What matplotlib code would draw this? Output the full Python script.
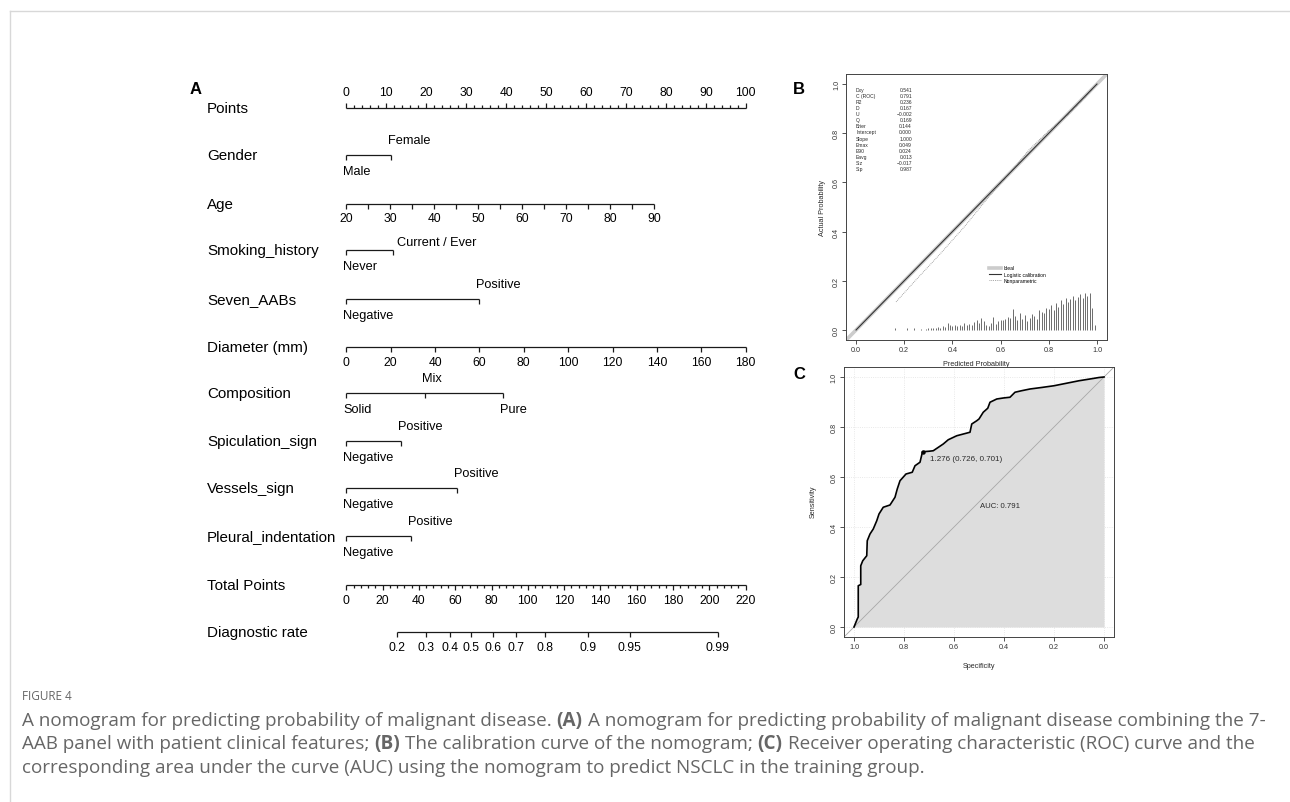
import numpy as np
import matplotlib
matplotlib.use('Agg')
import matplotlib.pyplot as plt
from matplotlib.lines import Line2D
from matplotlib.ticker import FormatStrFormatter

plt.rcParams['font.family'] = ['Liberation Sans', 'DejaVu Sans']

W, H = 1290, 803

# ---------------- panel A: nomogram (points scale 0-100) ----------------
row_names = ['Points', 'Gender', 'Age', 'Smoking_history', 'Seven_AABs', 'Diameter (mm)',
             'Composition', 'Spiculation_sign', 'Vessels_sign', 'Pleural_indentation',
             'Total Points', 'Diagnostic rate']
row_y = [109, 156, 205, 251, 300, 348, 394, 442, 489, 537, 586, 633]   # pixel rows

points_ticks = [0, 10, 20, 30, 40, 50, 60, 70, 80, 90, 100]

gender_levels = ['Male', 'Female']
gender_points = [0, 11.3]
smoking_levels = ['Never', 'Current / Ever']
smoking_points = [0, 11.7]
aab_levels = ['Negative', 'Positive']
aab_points = [0, 33.2]
composition_levels = ['Solid', 'Mix', 'Pure']
composition_points = [0, 19.6, 39.2]
spiculation_levels = ['Negative', 'Positive']
spiculation_points = [0, 13.8]
vessels_levels = ['Negative', 'Positive']
vessels_points = [0, 27.8]
pleural_levels = ['Negative', 'Positive']
pleural_points = [0, 16.2]

age_ticks = [20, 25, 30, 35, 40, 45, 50, 55, 60, 65, 70, 75, 80, 85, 90]
age_labels = [20, 30, 40, 50, 60, 70, 80, 90]
age_range = [20, 90]
age_point_range = [0, 77.1]

diameter_ticks = [0, 20, 40, 60, 80, 100, 120, 140, 160, 180]
diameter_range = [0, 180]
diameter_point_range = [0, 100]

total_labels = [0, 20, 40, 60, 80, 100, 120, 140, 160, 180, 200, 220]
total_range = [0, 220]

diag_probs = [0.2, 0.3, 0.4, 0.5, 0.6, 0.7, 0.8, 0.9, 0.95, 0.99]
diag_total = [28.2, 44.0, 56.9, 68.8, 80.7, 93.6, 109.4, 133.2, 156.0, 204.5]

# ---------------- panel B: calibration ----------------
stat_names = ['Dxy', 'C (ROC)', 'R2', 'D', 'U', 'Q', 'Brier', 'Intercept', 'Slope',
              'Emax', 'E90', 'Eavg', 'S:z', 'S:p']
stat_values = ['0.541', '0.791', '0.236', '0.167', '\u22120.002', '0.169', '0.144',
               '0.000', '1.000', '0.049', '0.024', '0.013', '\u22120.017', '0.987']

logistic_x = [0.0, 1.0]
logistic_y = [0.0, 1.0]
nonpar_x = [0.166, 0.25, 0.35, 0.45, 0.55, 0.64, 0.72, 0.80, 0.88, 0.95, 0.99]
nonpar_y = [0.114, 0.205, 0.31, 0.42, 0.54, 0.64, 0.735, 0.81, 0.875, 0.945, 0.99]

spike_x = [0.16, 0.21, 0.24, 0.27,
           0.29, 0.30, 0.31, 0.32, 0.33, 0.34, 0.35, 0.36, 0.37, 0.38, 0.39,
           0.40, 0.41, 0.42, 0.43, 0.44, 0.45, 0.46, 0.47, 0.48, 0.49,
           0.50, 0.51, 0.52, 0.53, 0.54, 0.55, 0.56, 0.57, 0.58, 0.59,
           0.60, 0.61, 0.62, 0.63, 0.64, 0.65, 0.66, 0.67, 0.68, 0.69,
           0.70, 0.71, 0.72, 0.73, 0.74, 0.75, 0.76, 0.77, 0.78, 0.79,
           0.80, 0.81, 0.82, 0.83, 0.84, 0.85, 0.86, 0.87, 0.88, 0.89,
           0.90, 0.91, 0.92, 0.93, 0.94, 0.95, 0.96, 0.97, 0.98, 0.99]
spike_h = [0.010, 0.006, 0.008, 0.005,
           0.004, 0.006, 0.007, 0.009, 0.008, 0.012, 0.010, 0.015, 0.012, 0.028, 0.022,
           0.018, 0.022, 0.015, 0.020, 0.018, 0.030, 0.022, 0.025, 0.020, 0.033,
           0.040, 0.028, 0.047, 0.035, 0.020, 0.018, 0.030, 0.054, 0.025, 0.038,
           0.040, 0.042, 0.045, 0.052, 0.050, 0.085, 0.055, 0.040, 0.070, 0.045,
           0.060, 0.035, 0.050, 0.065, 0.055, 0.045, 0.080, 0.075, 0.070, 0.090,
           0.085, 0.100, 0.080, 0.110, 0.095, 0.120, 0.105, 0.130, 0.115, 0.125,
           0.140, 0.120, 0.135, 0.145, 0.130, 0.150, 0.140, 0.150, 0.090, 0.020]

# ---------------- panel C: ROC ----------------
roc_spec = [1.0, 0.995, 0.987, 0.983, 0.983, 0.973, 0.973, 0.965, 0.949, 0.947, 0.936,
            0.923, 0.909, 0.900, 0.883, 0.856, 0.836, 0.827, 0.816, 0.792, 0.767, 0.756,
            0.736, 0.726, 0.700, 0.683, 0.643, 0.623, 0.589, 0.536, 0.529, 0.509, 0.500,
            0.483, 0.465, 0.456, 0.429, 0.403, 0.376, 0.356, 0.330, 0.296, 0.250, 0.200,
            0.150, 0.100, 0.050, 0.020, 0.0]
roc_sens = [0.0, 0.012, 0.032, 0.040, 0.165, 0.170, 0.245, 0.265, 0.285, 0.345, 0.372,
            0.392, 0.425, 0.452, 0.479, 0.488, 0.519, 0.552, 0.585, 0.612, 0.619, 0.645,
            0.659, 0.701, 0.703, 0.705, 0.732, 0.749, 0.765, 0.779, 0.812, 0.825, 0.832,
            0.859, 0.875, 0.899, 0.912, 0.916, 0.919, 0.939, 0.945, 0.952, 0.958, 0.965,
            0.975, 0.985, 0.993, 0.998, 1.0]
best_thr = (0.726, 0.701)
best_text = '1.276 (0.726, 0.701)'
auc_text = 'AUC: 0.791'

caption_title = 'FIGURE 4'
caption_lines = [
    [('A nomogram for predicting probability of malignant disease. ', False), ('(A)', True),
     (' A nomogram for predicting probability of malignant disease combining the 7-', False)],
    [('AAB panel with patient clinical features; ', False), ('(B)', True),
     (' The calibration curve of the nomogram; ', False), ('(C)', True),
     (' Receiver operating characteristic (ROC) curve and the', False)],
    [('corresponding area under the curve (AUC) using the nomogram to predict NSCLC in the training group.', False)],
]


def fig_rect(x0, y0, x1, y1):
    return [x0 / W, 1 - y1 / H, (x1 - x0) / W, (y1 - y0) / H]


fig = plt.figure(figsize=(W / 100, H / 100), dpi=100)

# frame lines of the page
fig.add_artist(Line2D([10 / W, 1], [1 - 12 / H, 1 - 12 / H], color='#d8d8d8', lw=1,
                      transform=fig.transFigure))
fig.add_artist(Line2D([10 / W, 10 / W], [0, 1 - 12 / H], color='#d8d8d8', lw=1,
                      transform=fig.transFigure))

# ================= A =================
X0, PXPT = 346.3, 3.994
dx = 1 / PXPT
axA = fig.add_axes(fig_rect(180, 80, 790, 665))
axA.set_xlim((180 - X0) / PXPT, (790 - X0) / PXPT)
axA.set_ylim(665, 80)
axA.axis('off')
LC = '#1a1a1a'
FS_ROW, FS_TICK, FS_CAT = 10.9, 8.7, 9.2


def axis_line(y, x0, x1):
    axA.plot([x0, x1], [y, y], color=LC, lw=0.9, solid_capstyle='butt')


def ticks(y, xs, length):
    axA.vlines(xs, y, y + length, color=LC, lw=0.9)


for name, y in zip(row_names, row_y):
    axA.text((207 - X0) / PXPT, y, name, fontsize=FS_ROW, ha='left', va='center')

# points
y = row_y[0]
axis_line(y, 0, 100)
ticks(y, points_ticks, -5)
ticks(y, [v for v in range(0, 101, 2) if v % 10], -3)
for v in points_ticks:
    axA.text(v, y - 16, str(v), fontsize=FS_TICK, ha='center', va='center')


def categorical(y, levels, pts, where):
    axis_line(y, pts[0], max(pts))
    ticks(y, pts, 5)
    for lev, p, w in zip(levels, pts, where):
        if w == 'below':
            axA.text(p - 3 * dx, y + 16, lev, fontsize=FS_CAT, ha='left', va='center')
        elif w == 'above':
            axA.text(p - 3 * dx, y - 15, lev, fontsize=FS_CAT, ha='left', va='center')
        else:
            axA.text(p + 4 * dx, y - 8, lev, fontsize=FS_CAT, ha='left', va='center')


def continuous(y, tick_vals, label_vals, vrange, prange, lab_off=14):
    pos = np.interp(tick_vals, vrange, prange)
    axis_line(y, pos[0], pos[-1])
    ticks(y, pos, 5)
    for v in label_vals:
        axA.text(np.interp(v, vrange, prange), y + lab_off, str(v), fontsize=FS_TICK,
                 ha='center', va='center')


categorical(row_y[1], gender_levels, gender_points, ['below', 'above'])
continuous(row_y[2], age_ticks, age_labels, age_range, age_point_range, 14)
categorical(row_y[3], smoking_levels, smoking_points, ['below', 'right'])
categorical(row_y[4], aab_levels, aab_points, ['below', 'above'])
continuous(row_y[5], diameter_ticks, diameter_ticks, diameter_range, diameter_point_range, 15)
categorical(row_y[6], composition_levels, composition_points, ['below', 'above', 'below'])
categorical(row_y[7], spiculation_levels, spiculation_points, ['below', 'above'])
categorical(row_y[8], vessels_levels, vessels_points, ['below', 'above'])
categorical(row_y[9], pleural_levels, pleural_points, ['below', 'above'])

# total points
y = row_y[10]
tscale = 100 / total_range[1]
axis_line(y, 0, 100)
ticks(y, np.array(total_labels) * tscale, 4.5)
ticks(y, np.array([v for v in range(0, 221, 4) if v % 20]) * tscale, 2.5)
for v in total_labels:
    axA.text(v * tscale, y + 15, str(v), fontsize=FS_TICK, ha='center', va='center')

# diagnostic rate
y = row_y[11]
dpos = np.array(diag_total) * tscale
axis_line(y, dpos[0], dpos[-1])
ticks(y, dpos, 5)
for p, xp in zip(diag_probs, dpos):
    axA.text(xp, y + 15, f'{p:g}', fontsize=FS_TICK, ha='center', va='center')

# ================= B =================
TXT = '#2a2a2a'
axB = fig.add_axes(fig_rect(846.4, 75.2, 1106.6, 340.8))
axB.set_xlim(-0.04, 1.04)
axB.set_ylim(-0.04, 1.04)
axB.axline((0, 0), (1, 1), color='#cccccc', lw=2.6, zorder=1, label='Ideal')
axB.plot(logistic_x, logistic_y, color='#333333', lw=0.8, zorder=3, label='Logistic calibration')
axB.plot(nonpar_x, nonpar_y, color='#8a8a8a', lw=0.6, ls=(0, (1, 1.2)), zorder=2,
         label='Nonparametric')
axB.vlines(spike_x, 0, spike_h, color='#555555', lw=0.6)
for i, (n, v) in enumerate(zip(stat_names, stat_values)):
    yy = 0.978 - i * 0.0247
    axB.text(0.0, yy, n, fontsize=3.6, ha='left', va='center', color=TXT)
    axB.text(0.232, yy, v, fontsize=3.6, ha='right', va='center', color=TXT)
axB.legend(loc='upper left', bbox_to_anchor=((989 - 846.4) / 260.2, (340.8 - 266.5) / 265.6),
           fontsize=3.6, frameon=False, handlelength=2.4, handletextpad=0.6,
           labelspacing=0.25, borderpad=0, borderaxespad=0)
axB.set_xticks([0, 0.2, 0.4, 0.6, 0.8, 1.0])
axB.set_yticks([0, 0.2, 0.4, 0.6, 0.8, 1.0])
axB.set_xlabel('Predicted Probability', fontsize=5.2, color=TXT)
axB.set_ylabel('Actual Probability', fontsize=5.2, color=TXT)
axB.xaxis.set_label_coords(0.498, -0.075)
axB.yaxis.set_label_coords(-0.080, 0.5)

# ================= C =================
axC = fig.add_axes(fig_rect(844, 368, 1114, 638))
axC.patch.set_alpha(0)
axC.set_xlim(1.04, -0.04)
axC.set_ylim(-0.04, 1.04)
axC.set_xticks([1.0, 0.8, 0.6, 0.4, 0.2, 0.0])
axC.set_yticks([0, 0.2, 0.4, 0.6, 0.8, 1.0])
axC.grid(True, color='#e2e2e2', lw=0.6, ls=':')
axC.set_axisbelow(True)
axC.fill_between(roc_spec, roc_sens, 0, color='#dddddd', lw=0, zorder=1)
axC.axline((1, 0), (0, 1), color='#a8a8a8', lw=0.6, zorder=2)
axC.plot(roc_spec, roc_sens, color='black', lw=1.2, zorder=3)
axC.plot([best_thr[0]], [best_thr[1]], 'o', ms=2.2, color='black', zorder=4)
axC.text(0.696, 0.672, best_text, fontsize=5.8, ha='left', va='center', color=TXT)
axC.text(0.496, 0.484, auc_text, fontsize=5.6, ha='left', va='center', color=TXT)
axC.set_xlabel('Specificity', fontsize=5.2, color=TXT)
axC.set_ylabel('Sensitivity', fontsize=5.2, color=TXT)
axC.xaxis.set_label_coords(0.5, -0.093)
axC.yaxis.set_label_coords(-0.100, 0.504)

for ax in (axB, axC):
    for s in ax.spines.values():
        s.set_linewidth(0.7)
        s.set_color('#444444')
    ax.tick_params(length=3, width=0.6, labelsize=5.2, pad=1.5, colors='#333333')
    ax.xaxis.set_major_formatter(FormatStrFormatter('%.1f'))
    ax.yaxis.set_major_formatter(FormatStrFormatter('%.1f'))
    for lbl in ax.get_yticklabels():
        lbl.set_rotation(90)
        lbl.set_va('center')

# panel letters
for letter, (px, py) in {'A': (196, 90), 'B': (799, 89), 'C': (799, 375)}.items():
    fig.text(px / W, 1 - py / H, letter, fontsize=12, fontweight='bold', ha='center', va='center')

# ================= caption =================
renderer = fig.canvas.get_renderer()
CAP = dict(family=['Open Sans', 'DejaVu Sans'], color='#666666')


def text_w(s, **kw):
    t = fig.text(0, 0, s, **kw)
    w = t.get_window_extent(renderer).width
    t.remove()
    return w


plain1 = ''.join(s for s, _ in caption_lines[0])
cap_size = 10 * 1240 / text_w(plain1, fontsize=10, **CAP)


def rich_line(x, y, pieces, size):
    sp = text_w('a a', fontsize=size, **CAP) - text_w('aa', fontsize=size, **CAP)
    for s, bold in pieces:
        lead = len(s) - len(s.lstrip(' '))
        trail = len(s) - len(s.rstrip(' '))
        x += lead * sp
        t = fig.text(x / W, 1 - y / H, s.strip(' '), fontsize=size,
                     fontweight='bold' if bold else 'normal', ha='left', va='center', **CAP)
        x += t.get_window_extent(renderer).width + trail * sp


fig.text(22 / W, 1 - 697 / H, caption_title, fontsize=8.5, ha='left', va='center', **CAP)
for i, line in enumerate(caption_lines):
    rich_line(22, 721 + i * 23.3, line, cap_size)

fig.savefig('out.png', dpi=100)
